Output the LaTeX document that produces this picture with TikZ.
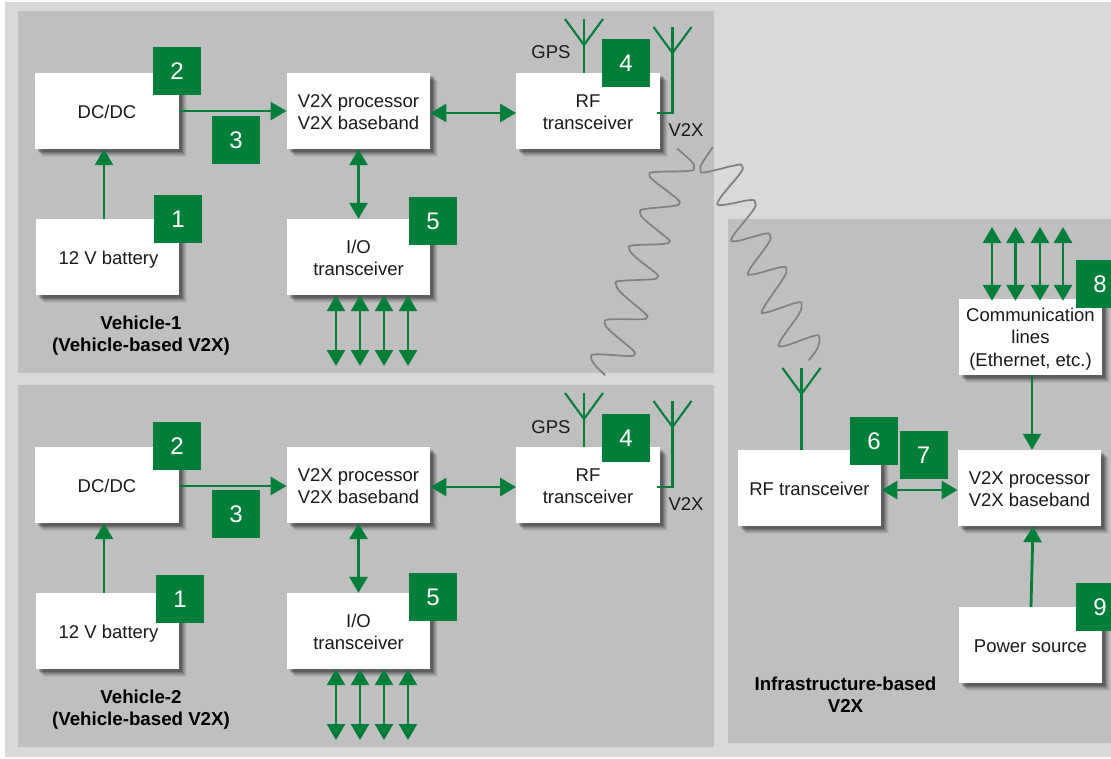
\documentclass[tikz,border=0pt]{standalone}
\usepackage{fontspec}
\setmainfont{Liberation Sans}
\usetikzlibrary{arrows.meta}
\definecolor{gr}{HTML}{007F3B}
\definecolor{pan}{HTML}{BFBFBF}
\definecolor{bgl}{HTML}{D9D9D9}
\definecolor{wav}{HTML}{808080}
\definecolor{txt}{HTML}{1A1A1A}
\newcommand\bt[2][3.2pt]{\raisebox{-#1}[\height][\depth]{\begin{tabular}{@{}c@{}}#2\end{tabular}}}
\tikzset{
 x=1pt,y=-1pt,
 panel/.style={fill=pan,draw=none},
 box/.style={draw=none,fill=white,minimum width=143.5pt,minimum height=76pt,inner sep=0pt,align=center,text=txt,
  font=\fontsize{18.5}{22.3}\selectfont,
  preaction={fill=black,fill opacity=.05,transform canvas={shift={(8pt,-8pt)}}},
  preaction={fill=black,fill opacity=.07,transform canvas={shift={(7pt,-7pt)}}},
  preaction={fill=black,fill opacity=.09,transform canvas={shift={(6pt,-6pt)}}},
  preaction={fill=black,fill opacity=.11,transform canvas={shift={(5pt,-5pt)}}},
  preaction={fill=black,fill opacity=.14,transform canvas={shift={(4pt,-4pt)}}},
  preaction={fill=black,fill opacity=.18,transform canvas={shift={(3pt,-3pt)}}}},
 num/.style={fill=gr,text=white,minimum width=48pt,minimum height=48pt,inner sep=0pt,font=\fontsize{24}{24}\selectfont},
 lbl/.style={text=txt,inner sep=0pt,font=\fontsize{18.5}{22.3}\selectfont,align=center},
 blbl/.style={text=black,inner sep=0pt,font=\fontsize{18.7}{22.3}\selectfont\bfseries,align=center},
 conn/.style={draw=gr,line width=2.8pt,-{Triangle[length=16pt,width=18pt]}},
 dconn/.style={draw=gr,line width=2.8pt,{Triangle[length=16pt,width=18pt]}-{Triangle[length=16pt,width=18pt]}},
 ant/.style={draw=gr,line width=2.1pt},
 wave/.style={draw=wav,line width=1.7pt,line cap=round,line join=round},
}
\begin{document}
\begin{tikzpicture}
\useasboundingbox (0,0) rectangle (1111,758);
\clip (0,0) rectangle (1111,758);
\fill[white] (0,0) rectangle (1111,758);
\fill[bgl] (5,2) rectangle (1111,757);
\fill[panel] (18,11) rectangle (714,373);
\fill[panel] (18,385) rectangle (714,747);
\fill[panel] (728,219) rectangle (1111,743);

% radio waves
\begin{scope}[shift={(580,140)},x=0.3333pt,y=-0.3333pt]
\draw[wave] plot[smooth,tension=.65] coordinates {(292,26)(335,65)(342,85)(325,93)(225,96)(208,105)(225,125)(290,175)(298,190)(280,198)(195,207)(180,217)(195,240)(262,295)(268,305)(250,312)(160,316)(147,325)(165,350)(228,400)(232,412)(215,418)(120,423)(108,433)(125,460)(195,520)(200,532)(185,538)(90,538)(74,548)(90,572)(158,630)(163,642)(148,648)(50,643)(33,652)(45,675)(75,705)};
\draw[wave] plot[smooth,tension=.65] coordinates {(398,22)(365,72)(362,90)(375,97)(470,75)(485,78)(482,98)(418,178)(425,195)(510,180)(525,187)(520,210)(458,290)(470,303)(555,281)(570,287)(565,310)(507,392)(520,403)(605,381)(619,390)(610,415)(550,505)(560,517)(650,488)(665,495)(655,525)(600,605)(612,618)(700,588)(718,592)(712,625)(687,660)};
\end{scope}

% boxes
\node[box] (dcA) at (107,111) {\bt{DC/DC}};
\node[box] (vxA) at (358.5,111) {\bt{V2X processor\\V2X baseband}};
\node[box] (rfA) at (588,111) {\bt{RF\\transceiver}};
\node[box] (batA) at (107.5,257) {\bt[3pt]{\kern2pt 12 V battery}};
\node[box] (ioA) at (358.5,257) {\bt{I/O\\transceiver}};
\node[box] (dcB) at (107,485) {\bt{DC/DC}};
\node[box] (vxB) at (358.5,485) {\bt{V2X processor\\V2X baseband}};
\node[box] (rfB) at (588,485) {\bt{RF\\transceiver}};
\node[box] (batB) at (107.5,631) {\bt[3pt]{\kern2pt 12 V battery}};
\node[box] (ioB) at (358.5,631) {\bt{I/O\\transceiver}};
\node[box] (rfC) at (809.5,488) {\bt{RF transceiver}};
\node[box] (vxC) at (1029.5,488) {\bt{V2X processor\\V2X baseband}};
\node[box] (com) at (1030.5,337) {\bt[2.5pt]{Communication\\lines\\(Ethernet, etc.)}};
\node[box] (pow) at (1030.5,645) {\bt{Power source}};

% antennas
\foreach \nm/\ax/\ay/\ab in {gA/584/19/rfA,vA/672.5/27/rfA,gB/584/393/rfB,vB/672.5/401/rfB,iC/801.5/368/rfC}{
 \draw[ant] (\ax-19,\ay) -- (\ax,\ay+26) -- (\ax+19,\ay);
 \coordinate (\nm) at (\ax,\ay);
}
\draw[ant] (gA) -- (gA |- rfA.north);
\draw[ant] (gB) -- (gB |- rfB.north);
\draw[ant] (iC) -- (iC |- rfC.north);
\draw[ant] (vA) -- (672.5,113) -- ([xshift=-3pt,yshift=-2pt]rfA.east);
\draw[ant] (vB) -- (672.5,487) -- ([xshift=-3pt,yshift=-2pt]rfB.east);

% connectors
\draw[conn] (batA.north -| 104,0) -- (dcA.south -| 104,0);
\draw[conn] (batB.north -| 104,0) -- (dcB.south -| 104,0);
\draw[conn] (dcA.east) -- (vxA.west);
\draw[conn] ([yshift=-1pt]dcB.east) -- ([yshift=-1pt]vxB.west);
\draw[dconn] ([yshift=-2pt]vxA.east) -- ([yshift=-2pt]rfA.west);
\draw[dconn] ([yshift=-2pt]vxB.east) -- ([yshift=-2pt]rfB.west);
\draw[dconn] (vxA.south) -- (ioA.north);
\draw[dconn] (vxB.south) -- (ioB.north);
\foreach \xx/\nn in {336/a,360/b,384/c,408/d}{
 \coordinate (endA\nn) at (\xx,366);
 \coordinate (endB\nn) at (\xx,740);
 \draw[dconn] (ioA.south -| endA\nn) -- (endA\nn);
 \draw[dconn] (ioB.south -| endB\nn) -- (endB\nn);
}
\foreach \xx/\nn in {992/a,1015.5/b,1040/c,1063/d}{
 \coordinate (endC\nn) at (\xx,227);
 \draw[dconn] ([yshift=-2pt]com.north -| endC\nn) -- (endC\nn);
}
\draw[dconn] ([yshift=-2pt]rfC.east) -- ([yshift=-2pt]vxC.west);
\draw[conn] (com.south -| 1032,0) -- (vxC.north -| 1032,0);
\draw[conn] (pow.north -| 1031,0) -- ([xshift=3.5pt]vxC.south);

% labels
\node[lbl] (gpsA) at (551,52) {GPS};
\node[lbl] (vlA) at (686,130) {V2X};
\node[lbl] (gpsB) at (551,427) {GPS};
\node[lbl] (vlB) at (686,504) {V2X};
\node[blbl] (tA) at (141,335.5) {Vehicle-1\\(Vehicle-based V2X)};
\node[blbl] (tB) at (141,709.5) {Vehicle-2\\(Vehicle-based V2X)};
\node[blbl] (tC) at (845.5,695) {Infrastructure-based\\V2X};

% number squares
\node[num] (n2A) at (177,71) {2};
\node[num] (n3A) at (236,140) {3};
\node[num] (n1A) at (178,219) {1};
\node[num] (n4A) at (626,63) {4};
\node[num] (n5A) at (433,221) {5};
\node[num] (n2B) at (177,446) {2};
\node[num] (n3B) at (236,514) {3};
\node[num] (n1B) at (180,599) {1};
\node[num] (n4B) at (626,438) {4};
\node[num] (n5B) at (433,597) {5};
\node[num] (n6) at (874,441) {6};
\node[num] (n7) at (923.5,455) {7};
\node[num] (n8) at (1100,284) {8};
\node[num] (n9) at (1100,607) {9};
\end{tikzpicture}
\end{document}
